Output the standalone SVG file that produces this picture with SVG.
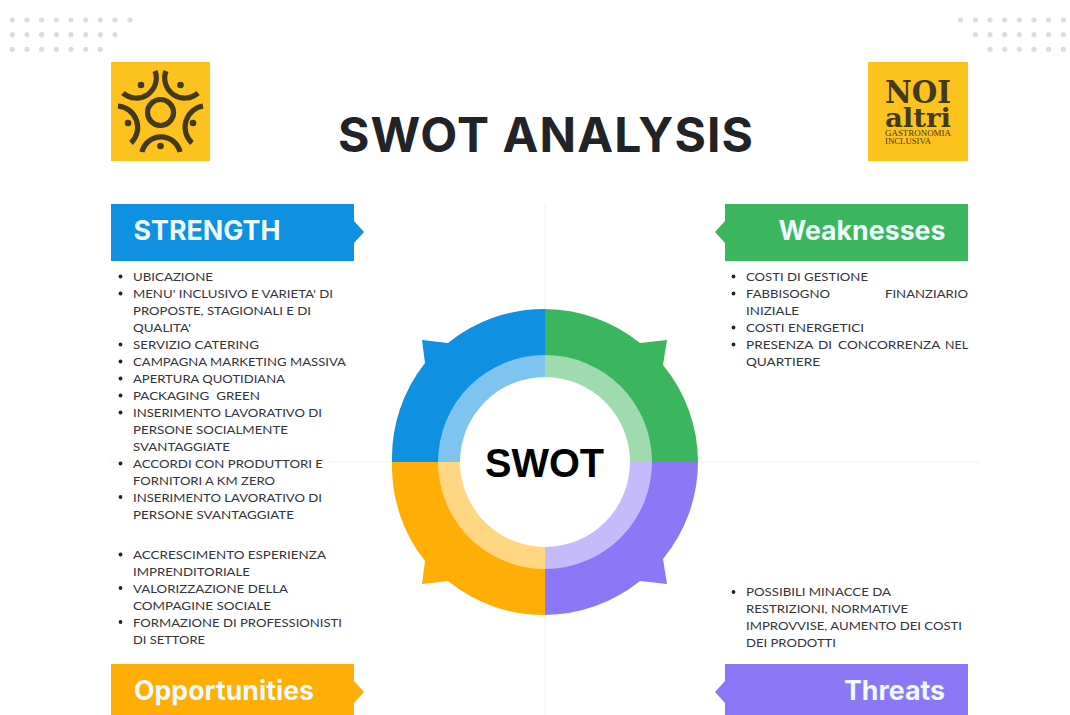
<svg xmlns="http://www.w3.org/2000/svg" width="1070" height="715" viewBox="0 0 1070 715">
<style>
.li{font-family:"Lato","Open Sans","Liberation Sans",sans-serif;font-size:12.2px;fill:#33353a}
.hd{font-family:"Inter","Liberation Sans",sans-serif;font-weight:700;font-size:27px;fill:#eefafc}
.dots circle{fill:#dcdcdc}
.bul{fill:#222}
.arc{fill:none;stroke:#43391c;stroke-width:5.2}
</style>
<defs>
<g id="bul"><circle r="1.9" class="bul"/></g>
</defs>
<rect width="1070" height="715" fill="#ffffff"/>
<g id="axes" stroke="#edf0f2" stroke-width="1" fill="none">
<path d="M545 203V715"/><path d="M110 462H980"/>
</g>
<g id="dots-left" class="dots">
<circle cx="12.300" cy="20" r="2.6"/><circle cx="27" cy="20" r="2.6"/><circle cx="41.700" cy="20" r="2.6"/><circle cx="56.300" cy="20" r="2.6"/><circle cx="71" cy="20" r="2.6"/><circle cx="85.700" cy="20" r="2.6"/><circle cx="100.300" cy="20" r="2.6"/><circle cx="115" cy="20" r="2.6"/><circle cx="130" cy="20" r="2.6"/>
<circle cx="12.300" cy="34.700" r="2.6"/><circle cx="27" cy="34.700" r="2.6"/><circle cx="41.700" cy="34.700" r="2.6"/><circle cx="56.300" cy="34.700" r="2.6"/><circle cx="71" cy="34.700" r="2.6"/><circle cx="85.700" cy="34.700" r="2.6"/><circle cx="100.300" cy="34.700" r="2.6"/><circle cx="115" cy="34.700" r="2.6"/>
<circle cx="12.300" cy="49.300" r="2.6"/><circle cx="27" cy="49.300" r="2.6"/><circle cx="41.700" cy="49.300" r="2.6"/><circle cx="56.300" cy="49.300" r="2.6"/><circle cx="71" cy="49.300" r="2.6"/><circle cx="85.700" cy="49.300" r="2.6"/><circle cx="100.300" cy="49.300" r="2.6"/>
</g>
<g id="dots-right" class="dots">
<circle cx="960.700" cy="20" r="2.6"/><circle cx="975.300" cy="20" r="2.6"/><circle cx="990" cy="20" r="2.6"/><circle cx="1004.700" cy="20" r="2.6"/><circle cx="1019.300" cy="20" r="2.6"/><circle cx="1034" cy="20" r="2.6"/><circle cx="1048.700" cy="20" r="2.6"/><circle cx="1063.300" cy="20" r="2.6"/>
<circle cx="975.300" cy="34.700" r="2.6"/><circle cx="990" cy="34.700" r="2.6"/><circle cx="1004.700" cy="34.700" r="2.6"/><circle cx="1019.300" cy="34.700" r="2.6"/><circle cx="1034" cy="34.700" r="2.6"/><circle cx="1048.700" cy="34.700" r="2.6"/><circle cx="1063.300" cy="34.700" r="2.6"/>
<circle cx="990" cy="49.300" r="2.6"/><circle cx="1004.700" cy="49.300" r="2.6"/><circle cx="1019.300" cy="49.300" r="2.6"/><circle cx="1034" cy="49.300" r="2.6"/><circle cx="1048.700" cy="49.300" r="2.6"/><circle cx="1063.300" cy="49.300" r="2.6"/>
</g>
<g id="logo-left">
<rect x="111" y="62" width="99" height="99" fill="#fcc31e"/>
<circle cx="160.500" cy="112.500" r="13" class="arc"/>
<path class="arc" d="M155 71A20 20 0 0 1 123 93"/>
<path class="arc" d="M166 71A20 20 0 0 0 198 93"/>
<path class="arc" d="M118 106A21.500 21.500 0 0 1 131 143"/>
<path class="arc" d="M203 106A21.500 21.500 0 0 0 192 143"/>
<path class="arc" d="M142 152A19.500 19.500 0 0 1 180 152"/>
<circle cx="141" cy="85" r="3.300" fill="#43391c"/><circle cx="180.500" cy="85" r="3.300" fill="#43391c"/><circle cx="128" cy="123" r="3.300" fill="#43391c"/><circle cx="193" cy="123" r="3.300" fill="#43391c"/><circle cx="160.500" cy="146" r="3.300" fill="#43391c"/>
</g>
<g id="logo-right" fill="#43391c">
<rect x="868" y="62" width="100" height="99" fill="#fcc31e"/>
<text x="885" y="103" font-family="'DejaVu Serif',serif" font-weight="700" font-size="31" textLength="66" lengthAdjust="spacingAndGlyphs">NOI</text>
<text x="885" y="127" font-family="'DejaVu Serif',serif" font-weight="700" font-size="26" textLength="66" lengthAdjust="spacingAndGlyphs">altri</text>
<text x="885" y="135.500" font-family="'Liberation Serif',serif" font-size="8" textLength="66" lengthAdjust="spacingAndGlyphs">GASTRONOMIA</text>
<text x="885" y="144" font-family="'Liberation Serif',serif" font-size="8" textLength="46" lengthAdjust="spacingAndGlyphs">INCLUSIVA</text>
</g>
<text id="title" x="338" y="151.500" font-family="Inter,'Liberation Sans',sans-serif" font-weight="700" font-size="48" fill="#222326" textLength="415" lengthAdjust="spacing">SWOT ANALYSIS</text>

<g id="strength">
<path d="M111 204H354V221L364 232L354 243V261H111Z" fill="#0f90e0"/>
<text class="hd" x="133.500" y="239.500" textLength="147" lengthAdjust="spacingAndGlyphs">STRENGTH</text>
<g id="strength-list">
<use href="#bul" x="120.500" y="276.500"/><text class="li" x="133" y="281" textLength="80" lengthAdjust="spacingAndGlyphs">UBICAZIONE</text>
<use href="#bul" x="120.500" y="293.500"/><text class="li" x="133" y="298" textLength="200" lengthAdjust="spacingAndGlyphs">MENU' INCLUSIVO E VARIETA' DI</text>
<text class="li" x="133" y="315" textLength="178" lengthAdjust="spacingAndGlyphs">PROPOSTE, STAGIONALI E DI</text>
<text class="li" x="133" y="332" textLength="58" lengthAdjust="spacingAndGlyphs">QUALITA'</text>
<use href="#bul" x="120.500" y="344.500"/><text class="li" x="133" y="349" textLength="126" lengthAdjust="spacingAndGlyphs">SERVIZIO CATERING</text>
<use href="#bul" x="120.500" y="361.500"/><text class="li" x="133" y="366" textLength="213" lengthAdjust="spacingAndGlyphs">CAMPAGNA MARKETING MASSIVA</text>
<use href="#bul" x="120.500" y="378.500"/><text class="li" x="133" y="383" textLength="152" lengthAdjust="spacingAndGlyphs">APERTURA QUOTIDIANA</text>
<use href="#bul" x="120.500" y="395.500"/><text class="li" x="133" y="400" textLength="127" lengthAdjust="spacingAndGlyphs" xml:space="preserve">PACKAGING  GREEN</text>
<use href="#bul" x="120.500" y="412.500"/><text class="li" x="133" y="417" textLength="189" lengthAdjust="spacingAndGlyphs">INSERIMENTO LAVORATIVO DI</text>
<text class="li" x="133" y="434" textLength="155" lengthAdjust="spacingAndGlyphs">PERSONE SOCIALMENTE</text>
<text class="li" x="133" y="451" textLength="97" lengthAdjust="spacingAndGlyphs">SVANTAGGIATE</text>
<use href="#bul" x="120.500" y="463.500"/><text class="li" x="133" y="468" textLength="190" lengthAdjust="spacingAndGlyphs">ACCORDI CON PRODUTTORI E</text>
<text class="li" x="133" y="485" textLength="142" lengthAdjust="spacingAndGlyphs">FORNITORI A KM ZERO</text>
<use href="#bul" x="120.500" y="497"/><text class="li" x="133" y="502" textLength="189" lengthAdjust="spacingAndGlyphs">INSERIMENTO LAVORATIVO DI</text>
<text class="li" x="133" y="518.500" textLength="161" lengthAdjust="spacingAndGlyphs">PERSONE SVANTAGGIATE</text>
</g>
</g>

<g id="weaknesses">
<path d="M968 204H725V221L715 232L725 243V261H968Z" fill="#3cb65e"/>
<text class="hd" x="778.500" y="239.500" textLength="167" lengthAdjust="spacingAndGlyphs">Weaknesses</text>
<g id="weaknesses-list">
<use href="#bul" x="733.500" y="276.500"/><text class="li" x="746" y="281" textLength="122" lengthAdjust="spacingAndGlyphs">COSTI DI GESTIONE</text>
<use href="#bul" x="733.500" y="293.500"/><text class="li" y="298"><tspan x="746" textLength="84" lengthAdjust="spacingAndGlyphs">FABBISOGNO</tspan> <tspan x="885" textLength="83" lengthAdjust="spacingAndGlyphs">FINANZIARIO</tspan></text>
<text class="li" x="746" y="315" textLength="53" lengthAdjust="spacingAndGlyphs">INIZIALE</text>
<use href="#bul" x="733.500" y="327.500"/><text class="li" x="746" y="332" textLength="118" lengthAdjust="spacingAndGlyphs">COSTI ENERGETICI</text>
<use href="#bul" x="733.500" y="344.500"/><text class="li" y="349"><tspan x="746" textLength="67" lengthAdjust="spacingAndGlyphs">PRESENZA</tspan> <tspan x="818" textLength="14" lengthAdjust="spacingAndGlyphs">DI</tspan> <tspan x="838" textLength="102" lengthAdjust="spacingAndGlyphs">CONCORRENZA</tspan> <tspan x="945" textLength="23" lengthAdjust="spacingAndGlyphs">NEL</tspan></text>
<text class="li" x="746" y="366" textLength="74" lengthAdjust="spacingAndGlyphs">QUARTIERE</text>
</g>
</g>

<g id="opportunities">
<path d="M111 664H354V681L364 692L354 703V715H111Z" fill="#ffae05"/>
<text class="hd" x="134" y="700" textLength="180" lengthAdjust="spacingAndGlyphs">Opportunities</text>
<g id="opportunities-list">
<use href="#bul" x="120.500" y="554.500"/><text class="li" x="133" y="559" textLength="193" lengthAdjust="spacingAndGlyphs">ACCRESCIMENTO ESPERIENZA</text>
<text class="li" x="133" y="576" textLength="117" lengthAdjust="spacingAndGlyphs">IMPRENDITORIALE</text>
<use href="#bul" x="120.500" y="588"/><text class="li" x="133" y="592.500" textLength="155" lengthAdjust="spacingAndGlyphs">VALORIZZAZIONE DELLA</text>
<text class="li" x="133" y="609.500" textLength="138" lengthAdjust="spacingAndGlyphs">COMPAGINE SOCIALE</text>
<use href="#bul" x="120.500" y="622"/><text class="li" x="133" y="626.500" textLength="209" lengthAdjust="spacingAndGlyphs">FORMAZIONE DI PROFESSIONISTI</text>
<text class="li" x="133" y="643.500" textLength="72" lengthAdjust="spacingAndGlyphs">DI SETTORE</text>
</g>
</g>

<g id="threats">
<path d="M968 664H725V681L715 692L725 703V715H968Z" fill="#8c78f7"/>
<text class="hd" x="844" y="700" textLength="101" lengthAdjust="spacingAndGlyphs">Threats</text>
<g id="threats-list">
<use href="#bul" x="733.500" y="592"/><text class="li" x="746" y="596" textLength="145" lengthAdjust="spacingAndGlyphs">POSSIBILI MINACCE DA</text>
<text class="li" x="746" y="613" textLength="162" lengthAdjust="spacingAndGlyphs">RESTRIZIONI, NORMATIVE</text>
<text class="li" x="746" y="630" textLength="216" lengthAdjust="spacingAndGlyphs">IMPROVVISE, AUMENTO DEI COSTI</text>
<text class="li" x="746" y="647" textLength="90" lengthAdjust="spacingAndGlyphs">DEI PRODOTTI</text>
</g>
</g>

<g id="wheel">
<path d="M545 462V309A153 153 0 0 0 448 343L422 340L425 363A153 153 0 0 0 392 462Z" fill="#0f90e0"/>
<path d="M545 462V309A153 153 0 0 1 640 343L667 340L663 365A153 153 0 0 1 698 462Z" fill="#3cb65e"/>
<path d="M545 462V615A153 153 0 0 1 448 581L422 584L425 561A153 153 0 0 1 392 462Z" fill="#ffae05"/>
<path d="M545 462V615A153 153 0 0 0 640 581L667 584L663 559A153 153 0 0 0 698 462Z" fill="#8c78f7"/>
<path d="M545 462V355A107 107 0 0 0 438 462Z" fill="#7fc3ef"/>
<path d="M545 462V355A107 107 0 0 1 652 462Z" fill="#9fdbaf"/>
<path d="M545 462V569A107 107 0 0 1 438 462Z" fill="#ffd682"/>
<path d="M545 462V569A107 107 0 0 0 652 462Z" fill="#c5bbfb"/>
<circle cx="545" cy="462" r="85" fill="#ffffff"/>
<text x="485" y="477" font-family="'Liberation Sans',Arial,sans-serif" font-weight="700" font-size="40" fill="#000000" textLength="119" lengthAdjust="spacingAndGlyphs">SWOT</text>
</g>
</svg>
